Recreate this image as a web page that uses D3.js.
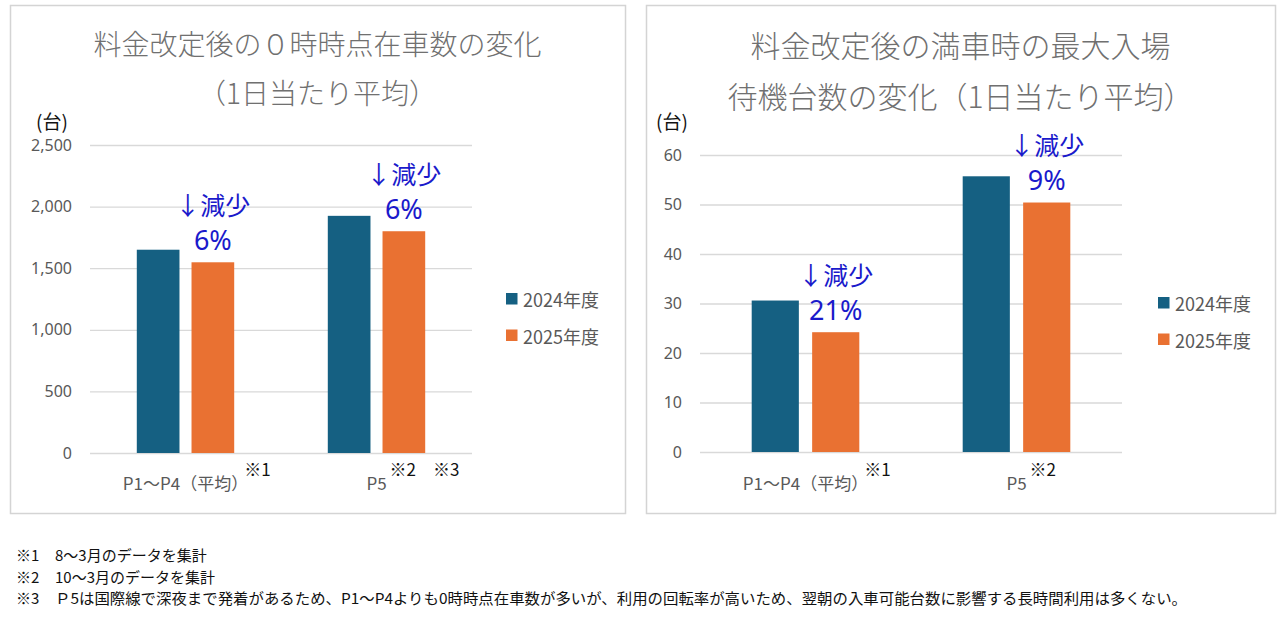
<!DOCTYPE html>
<html>
<head>
<meta charset="utf-8">
<script src="https://cdn.jsdelivr.net/npm/d3@7"></script>
<style>
  body { margin: 0; background: #fff; }
  text { font-family: "Noto Sans CJK JP", "Noto Sans", sans-serif; }
</style>
</head>
<body>
<svg id="chart" width="1280" height="618"></svg>
<script>
const categories = ["P1～P4（平均）", "P5"];
const series = ["2024年度", "2025年度"];
const colors = ["#156082", "#E97132"];

// left chart: 0時時点在車数
const parkedTitle = ["料金改定後の０時時点在車数の変化", "（1日当たり平均）"];
const parked2024 = [1650, 1925];
const parked2025 = [1548, 1800];
const parkedTicks = [0, 500, 1000, 1500, 2000, 2500];
const parkedNotes = ["※1", "※2　※3"];
const parkedDrop = ["6%", "6%"];

// right chart: 満車時の最大入場待機台数
const waitTitle = ["料金改定後の満車時の最大入場", "待機台数の変化（1日当たり平均）"];
const wait2024 = [30.6, 55.7];
const wait2025 = [24.2, 50.4];
const waitTicks = [0, 10, 20, 30, 40, 50, 60];
const waitNotes = ["※1", "※2"];
const waitDrop = ["21%", "9%"];

const footnotes = [
  ["※1", "8～3月のデータを集計"],
  ["※2", "10～3月のデータを集計"],
  ["※3", "Ｐ5は国際線で深夜まで発着があるため、P1～P4よりも0時時点在車数が多いが、利用の回転率が高いため、翌朝の入車可能台数に影響する長時間利用は多くない。"]
];

const svg = d3.select("#chart");

function drawPanel(cfg) {
  const g = svg.append("g");

  // panel frame
  g.append("rect")
    .attr("x", cfg.box[0] + 0.5).attr("y", cfg.box[1] + 0.5)
    .attr("width", cfg.box[2]).attr("height", cfg.box[3])
    .attr("fill", "none").attr("stroke", "#d4d4d4").attr("stroke-width", 1.5);

  // title
  const cx = cfg.box[0] + cfg.box[2] / 2;
  cfg.title.forEach((t, i) => {
    g.append("text")
      .attr("x", cx).attr("y", cfg.titleY[i])
      .attr("text-anchor", "middle")
      .attr("font-size", cfg.titleSize)
      .attr("font-weight", 300)
      .attr("fill", "#707070")
      .text(t);
  });

  const y = d3.scaleLinear().domain(cfg.domain).range([cfg.bottom, cfg.top]);
  const x = d3.scaleBand().domain(categories)
    .range([cfg.left, cfg.right])
    .paddingInner(0.49).paddingOuter(0.245);
  const xs = d3.scaleBand().domain(series)
    .range([0, x.bandwidth()]).paddingInner(0.22);

  // gridlines + tick labels
  const axis = g.append("g")
    .attr("transform", `translate(${cfg.left},0)`)
    .call(d3.axisLeft(y).tickValues(cfg.ticks)
      .tickSize(-(cfg.right - cfg.left)).tickPadding(18)
      .tickFormat(cfg.format));
  axis.select(".domain").remove();
  axis.selectAll("line").attr("stroke", "#d9d9d9").attr("stroke-width", 1.3);
  axis.selectAll("text")
    .attr("fill", "#595959").attr("font-size", 16)
    .style("font-family", '"Noto Sans", sans-serif');

  g.append("text")
    .attr("x", cfg.unitX).attr("y", 129)
    .attr("text-anchor", "middle")
    .attr("font-size", 19).attr("fill", "#111")
    .text("(台)");

  // bars
  const rows = categories.map((c, i) => ({ cat: c, vals: [cfg.v1[i], cfg.v2[i]], drop: cfg.drop[i], note: cfg.notes[i] }));
  const groups = g.selectAll("g.cat")
    .data(rows)
    .join("g")
    .attr("class", "cat")
    .attr("transform", d => `translate(${x(d.cat)},0)`);

  groups.selectAll("rect")
    .data(d => d.vals.map((v, j) => ({ s: series[j], v: v, j: j })))
    .join("rect")
    .attr("x", d => xs(d.s))
    .attr("y", d => y(d.v))
    .attr("width", xs.bandwidth())
    .attr("height", d => y(0) - y(d.v))
    .attr("fill", d => colors[d.j]);

  // decrease annotation over the 2025 bar
  groups.each(function(d) {
    const gg = d3.select(this);
    const ax = xs(series[1]) + xs.bandwidth() / 2;
    const base = y(d.vals[1]) - 12.5;
    gg.append("text")
      .attr("x", ax).attr("y", base)
      .attr("text-anchor", "middle").attr("font-size", 27).attr("fill", "#1a1acb")
      .style("font-family", '"Noto Sans", sans-serif')
      .text(d.drop);
    gg.append("text")
      .attr("x", ax).attr("y", base - 35)
      .attr("text-anchor", "middle").attr("font-size", 25).attr("fill", "#1a1acb")
      .text("↓減少");
  });

  // category labels with notes
  rows.forEach(d => {
    const lx = x(d.cat) + x.bandwidth() / 2;
    const lab = g.append("text")
      .attr("x", lx).attr("y", 490)
      .attr("text-anchor", "middle")
      .attr("font-size", 17).attr("fill", "#595959")
      .text(d.cat);
    const w = lab.node().getComputedTextLength();
    g.append("text")
      .attr("x", lx + w / 2 + (d.cat.endsWith("）") ? -4 : 3)).attr("y", 476)
      .attr("font-size", 17).attr("fill", "#111")
      .text(d.note);
  });

  // legend
  series.forEach((s, i) => {
    const ly = cfg.legendY + i * 36.5;
    g.append("rect")
      .attr("x", cfg.legendX).attr("y", ly - 6)
      .attr("width", 11.5).attr("height", 11.5)
      .attr("fill", colors[i]);
    g.append("text")
      .attr("x", cfg.legendX + 17).attr("y", ly)
      .attr("dominant-baseline", "central")
      .attr("font-size", 18).attr("fill", "#595959")
      .text(s);
  });
}

drawPanel({
  box: [10, 5, 615, 508],
  title: parkedTitle, titleY: [55, 104], titleSize: 28,
  domain: [0, 2500], ticks: parkedTicks, format: d3.format(","),
  left: 90, right: 472, top: 145, bottom: 453,
  v1: parked2024, v2: parked2025, drop: parkedDrop, notes: parkedNotes,
  unitX: 52, legendX: 506, legendY: 299
});

drawPanel({
  box: [646, 5, 629, 508],
  title: waitTitle, titleY: [57, 108], titleSize: 30,
  domain: [0, 60], ticks: waitTicks, format: d3.format("d"),
  left: 700, right: 1122, top: 155, bottom: 452,
  v1: wait2024, v2: wait2025, drop: waitDrop, notes: waitNotes,
  unitX: 672, legendX: 1158, legendY: 303
});

// footnotes
footnotes.forEach((f, i) => {
  const fy = 561 + i * 21.5;
  svg.append("text")
    .attr("x", 16).attr("y", fy)
    .attr("font-size", 15).attr("fill", "#111")
    .text(f[0]);
  const t = svg.append("text")
    .attr("x", 55).attr("y", fy)
    .attr("font-size", 15).attr("fill", "#111")
    .text(f[1]);
  if (i === 2) t.attr("textLength", 1187 - 55).attr("lengthAdjust", "spacingAndGlyphs");
});
</script>
</body>
</html>
